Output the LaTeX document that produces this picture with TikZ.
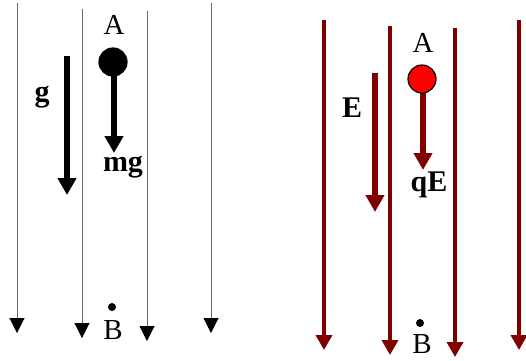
\documentclass[tikz,border=0pt]{standalone}
\usepackage{fontspec}
\setmainfont{Liberation Serif}
\usetikzlibrary{arrows.meta}
\definecolor{darkred}{RGB}{128,0,0}
\begin{document}
\begin{tikzpicture}[x=1pt,y=-1pt]
            \tikzset{
                fieldline/.style={draw=black!60, line width=1pt, -{Triangle[length=15pt,width=15pt,color=black]}},
                efieldline/.style={draw=darkred, line width=3.5pt, -{Triangle[length=15pt,width=16pt]}},
                vec/.style={line width=6pt, -{Triangle[length=17pt,width=18pt]}},
                ball/.style={draw, circle, minimum size=28pt, inner sep=0pt, line width=1.2pt},
                dot/.style={fill, circle, minimum size=8pt, inner sep=0pt},
                lbl/.style={font=\fontsize{29}{29}\selectfont, inner sep=0pt},
                blbl/.style={font=\fontsize{30}{30}\selectfont\bfseries, inner sep=0pt}
            }
            \useasboundingbox (0,0) rectangle (526,360);

            \foreach \n/\x/\t/\b in {%
                1/17/3/333, 2/82/9/338, 3/147/11/341, 4/211/3/333%
            }{
            \coordinate (gt\n) at (\x,\t);
            \coordinate (gb\n) at (\x,\b);
            \draw[fieldline] (gt\n) -- (gb\n);
            }
            \foreach \n/\x/\t/\b in {%
                1/324/20/350, 2/390/26/355, 3/455/28/357, 4/519/20/350%
            }{
            \coordinate (et\n) at (\x,\t);
            \coordinate (eb\n) at (\x,\b);
            \draw[efieldline] (et\n) -- (eb\n);
            }

            \coordinate (g0) at (67,56);
            \coordinate (g1) at (67,195);
            \draw[vec] (g0) -- (g1);
            \draw node[blbl] (gl) at (42,97) {g};
            \coordinate (mg0) at (114,62);
            \coordinate (mg1) at (114,153);
            \draw[vec] (mg0) -- (mg1);
            \draw node[ball, fill=black] (a1) at (113,62) {};
            \draw node[lbl] (al) at (114,25) {A};
            \draw node[blbl] (mgl) at (123,167) {mg};
            \draw node[dot] (b1) at (112,307) {};
            \draw node[lbl] (bl) at (113,330) {B};

            \coordinate (e0) at (375,73);
            \coordinate (e1) at (375,212);
            \draw[vec, darkred] (e0) -- (e1);
            \draw node[blbl] (el) at (352,108) {E};
            \coordinate (qe0) at (423,79);
            \coordinate (qe1) at (423,170);
            \draw[vec, darkred] (qe0) -- (qe1);
            \draw node[ball, fill=red] (a2) at (422,79) {};
            \draw node[lbl] (al2) at (423,43) {A};
            \draw node[blbl] (qel) at (429,185) {qE};
            \draw node[dot] (b2) at (420,323) {};
            \draw node[lbl] (bl2) at (422,344) {B};
        \end{tikzpicture}
\end{document}
